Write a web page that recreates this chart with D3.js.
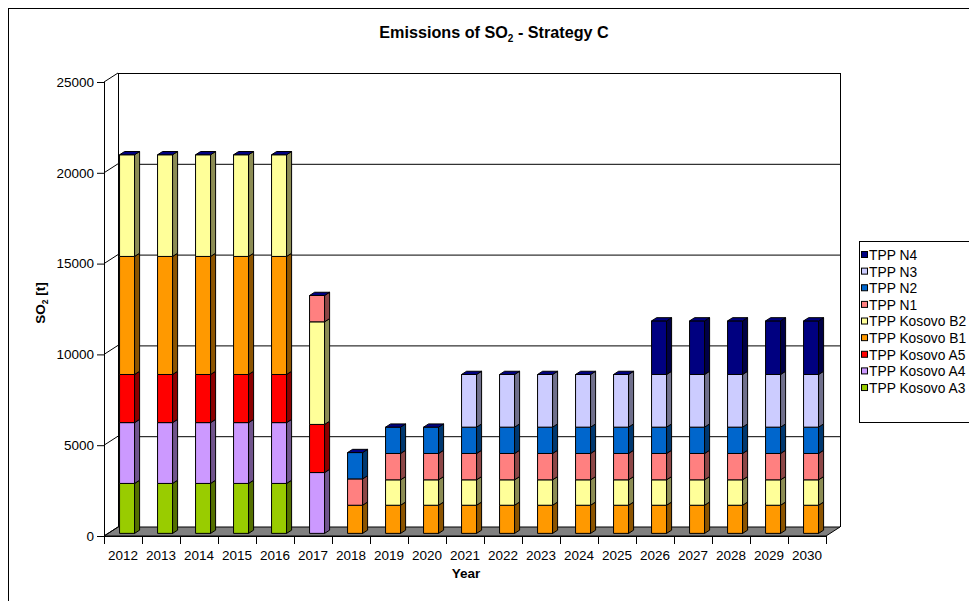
<!DOCTYPE html>
<html>
<head>
<meta charset="utf-8">
<script src="https://cdn.jsdelivr.net/npm/d3@7"></script>
<style>
  html, body { margin: 0; padding: 0; background: #fff; }
  svg { display: block; font-family: "Liberation Sans", Arial, Helvetica, sans-serif; }
</style>
</head>
<body>
<svg id="chart" width="969" height="601"></svg>
<script>
// ---------------- DATA ----------------
const years = [2012,2013,2014,2015,2016,2017,2018,2019,2020,2021,2022,2023,2024,2025,2026,2027,2028,2029,2030];
const seriesNames = ["TPP Kosovo A3","TPP Kosovo A4","TPP Kosovo A5","TPP Kosovo B1","TPP Kosovo B2","TPP N1","TPP N2","TPP N3","TPP N4"];
const kosovoA3 = [2750,2750,2750,2750,2750,0,0,0,0,0,0,0,0,0,0,0,0,0,0];
const kosovoA4 = [3350,3350,3350,3350,3350,3350,0,0,0,0,0,0,0,0,0,0,0,0,0];
const kosovoA5 = [2650,2650,2650,2650,2650,2650,0,0,0,0,0,0,0,0,0,0,0,0,0];
const kosovoB1 = [6500,6500,6500,6500,6500,0,1550,1550,1550,1550,1550,1550,1550,1550,1550,1550,1550,1550,1550];
const kosovoB2 = [5600,5600,5600,5600,5600,5650,0,1400,1400,1400,1400,1400,1400,1400,1400,1400,1400,1400,1400];
const tppN1   = [0,0,0,0,0,1450,1450,1450,1450,1450,1450,1450,1450,1450,1450,1450,1450,1450,1450];
const tppN2   = [0,0,0,0,0,0,1450,1450,1450,1450,1450,1450,1450,1450,1450,1450,1450,1450,1450];
const tppN3   = [0,0,0,0,0,0,0,0,0,2900,2900,2900,2900,2900,2900,2900,2900,2900,2900];
const tppN4   = [0,0,0,0,0,0,0,0,0,0,0,0,0,0,2950,2950,2950,2950,2950];
const yTicks = [0,5000,10000,15000,20000,25000];
const colors = ["#99CC00","#CC99FF","#FF0000","#FF9900","#FFFF99","#FF8080","#0066CC","#CCCCFF","#000080"];

const seriesValues = [kosovoA3,kosovoA4,kosovoA5,kosovoB1,kosovoB2,tppN1,tppN2,tppN3,tppN4];
const table = years.map((yr,i) => {
  const row = {year: yr};
  seriesNames.forEach((n,k) => row[n] = seriesValues[k][i]);
  return row;
});

// ---------------- LAYOUT ----------------
const svg = d3.select("#chart");
const DX = 14, DY = 9;          // depth projection
const z1 = 0.29, z2 = 0.65;     // bar depth range
const x = d3.scaleBand().domain(years).range([104, 826]);
const y = d3.scaleLinear().domain([0, 25000]).range([536, 82]);
const P = (px, v, z) => [px + DX*z, y(v) - DY*z];
const poly = pts => pts.map(p => p.join(",")).join(" ");

// chart-area frame
svg.append("rect").attr("x", 8.5).attr("y", 8.5).attr("width", 1000).attr("height", 1000)
  .attr("fill", "none").attr("stroke", "#000").attr("stroke-width", 1);

// floor
svg.append("polygon")
  .attr("points", poly([P(104,0,0), P(826,0,0), P(826,0,1), P(104,0,1)]))
  .attr("fill", "#808080").attr("stroke", "#000").attr("stroke-width", 1);

// back wall gridlines and side wall lines
const g = svg.append("g").attr("stroke", "#000").attr("stroke-width", 1).attr("fill", "none");
yTicks.forEach(t => {
  if (t > 0) {
    g.append("line").attr("x1", P(104,t,1)[0]).attr("y1", P(104,t,1)[1]+0.5)
      .attr("x2", P(826,t,1)[0]).attr("y2", P(826,t,1)[1]+0.5);
  }
  g.append("line").attr("x1", P(104,t,0)[0]).attr("y1", P(104,t,0)[1])
    .attr("x2", P(104,t,1)[0]).attr("y2", P(104,t,1)[1]);
  g.append("line").attr("x1", 97).attr("y1", y(t)+0.5).attr("x2", 104).attr("y2", y(t)+0.5);
});
g.append("line").attr("x1", P(104,0,1)[0]+0.5).attr("y1", P(104,0,1)[1]).attr("x2", P(104,25000,1)[0]+0.5).attr("y2", P(104,25000,1)[1]);
g.append("line").attr("x1", P(826,0,1)[0]+0.5).attr("y1", P(826,0,1)[1]).attr("x2", P(826,25000,1)[0]+0.5).attr("y2", P(826,25000,1)[1]);
g.append("line").attr("x1", 104.5).attr("y1", y(0)).attr("x2", 104.5).attr("y2", y(25000));
g.append("line").attr("x1", 104).attr("y1", y(0)+0.5).attr("x2", 826).attr("y2", y(0)+0.5);
const bounds = years.map(d => x(d)).concat([826]);
bounds.forEach(b => {
  g.append("line").attr("x1", Math.round(b)+0.5).attr("y1", y(0)).attr("x2", Math.round(b)+0.5).attr("y2", y(0)+8);
});

// y tick labels
svg.append("g").selectAll("text").data(yTicks).join("text")
  .attr("x", 94).attr("y", d => y(d)).attr("dy", "0.35em")
  .attr("text-anchor", "end").attr("font-size", 13.5).attr("fill", "#000")
  .text(d => d);

// x tick labels
svg.append("g").selectAll("text").data(years).join("text")
  .attr("x", d => x(d) + x.bandwidth()/2).attr("y", 560)
  .attr("text-anchor", "middle").attr("font-size", 13.5).attr("fill", "#000")
  .text(d => d);

// ---------------- BARS ----------------
const stack = d3.stack().keys(seriesNames)(table);
const bw = x.bandwidth();
const barW = bw * 0.395;
const shade = c => { const k = d3.rgb(c); return d3.rgb(k.r*0.55, k.g*0.55, k.b*0.55).formatHex(); };
const barsG = svg.append("g").attr("stroke", "#000").attr("stroke-width", 1).attr("stroke-linejoin", "round");

years.forEach((yr, i) => {
  const bx = x(yr) + (bw - barW)/2;
  let top = 0;
  stack.forEach((s, k) => {
    const v0 = s[i][0], v1 = s[i][1];
    if (v1 - v0 <= 0) return;
    top = v1;
    barsG.append("polygon")
      .attr("points", poly([P(bx,v0,z1), P(bx+barW,v0,z1), P(bx+barW,v1,z1), P(bx,v1,z1)]))
      .attr("fill", colors[k]);
    barsG.append("polygon")
      .attr("points", poly([P(bx+barW,v0,z1), P(bx+barW,v0,z2), P(bx+barW,v1,z2), P(bx+barW,v1,z1)]))
      .attr("fill", shade(colors[k]));
  });
  barsG.append("polygon")
    .attr("points", poly([P(bx,top,z1), P(bx+barW,top,z1), P(bx+barW,top,z2), P(bx,top,z2)]))
    .attr("fill", colors[colors.length-1]);
});

// ---------------- TITLES ----------------
const title = svg.append("text").attr("x", 494).attr("y", 38).attr("text-anchor", "middle")
  .attr("font-size", 16.2).attr("font-weight", "bold").attr("fill", "#000");
title.append("tspan").text("Emissions of SO");
title.append("tspan").attr("font-size", 10).attr("dy", 4).text("2");
title.append("tspan").attr("dy", -4).text(" - Strategy C");

const yt = svg.append("text").attr("transform", "translate(45,303) rotate(-90)")
  .attr("text-anchor", "middle").attr("font-size", 13.5).attr("font-weight", "bold").attr("fill", "#000");
yt.append("tspan").text("SO");
yt.append("tspan").attr("font-size", 8.5).attr("dy", 3).text("2");
yt.append("tspan").attr("dy", -3).text(" [t]");

svg.append("text").attr("x", 466).attr("y", 578).attr("text-anchor", "middle")
  .attr("font-size", 13.5).attr("font-weight", "bold").attr("fill", "#000").text("Year");

// ---------------- LEGEND ----------------
const legG = svg.append("g");
legG.append("rect").attr("x", 859.5).attr("y", 241.5).attr("width", 200).attr("height", 181)
  .attr("fill", "#fff").attr("stroke", "#000");
const legOrder = seriesNames.map((n,k) => ({name:n, color:colors[k]})).reverse();
const legItems = legG.selectAll("g.item").data(legOrder).join("g")
  .attr("transform", (d,i) => `translate(0,${255 + i*16.63})`);
legItems.append("rect").attr("x", 861.5).attr("y", -3.5).attr("width", 6).attr("height", 6)
  .attr("fill", d => d.color).attr("stroke", "#000");
legItems.append("text").attr("x", 869).attr("y", 0).attr("dy", "0.36em")
  .attr("font-size", 13.8).attr("fill", "#000").text(d => d.name);
</script>
</body>
</html>
